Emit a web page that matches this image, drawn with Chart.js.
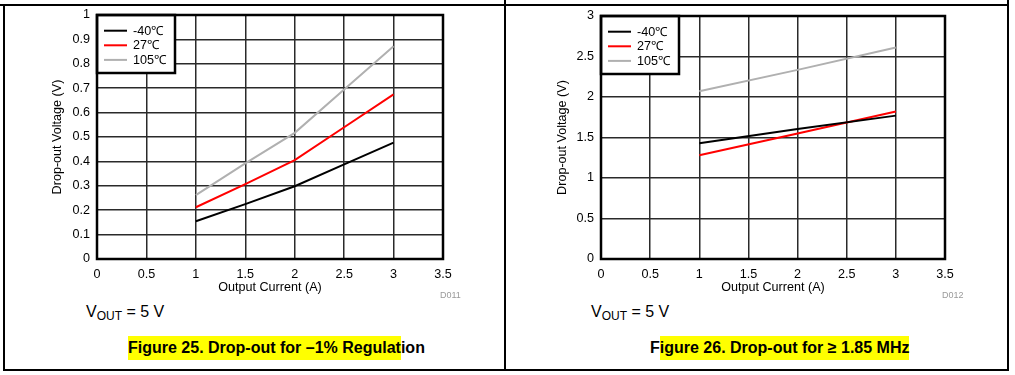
<!DOCTYPE html>
<html lang="en">
<head>
  <meta charset="UTF-8">
  <title>Drop-out Voltage vs Output Current</title>
  <script src="https://cdn.jsdelivr.net/npm/chart.js"></script>
  <style>
    body {
      margin: 0;
      width: 1015px;
      height: 375px;
      background: #fff;
      font-family: Arial, "Liberation Sans", sans-serif;
      position: relative;
      overflow: hidden;
    }
    .rule { position: absolute; background: #000; }
    .panel { position: absolute; top: 0; width: 505px; height: 300px; }
    .code { position: absolute; font-size: 9px; color: #9a9a9a; line-height: 1; }
    .vout { position: absolute; font-size: 16px; line-height: 1; color: #000; }
    .vout sub { font-size: 12px; vertical-align: -3px; line-height: 0; }
    .caption { position: absolute; font-size: 16px; font-weight: bold; line-height: 1; color: #000; white-space: nowrap; }
    .hl { background: #ffff00; padding: 3px 0 4px 0; }
  </style>
</head>
<body>

  <!-- table rules -->
  <div class="rule" style="left:0; top:4px; width:1009px; height:2px;"></div>
  <div class="rule" style="left:3px; top:5px; width:1.5px; height:366px;"></div>
  <div class="rule" style="left:504px; top:0; width:1.5px; height:371px;"></div>
  <div class="rule" style="left:1007px; top:0; width:1.5px; height:371px;"></div>
  <div class="rule" style="left:3px; top:369px; width:1006px; height:2px;"></div>

  <canvas id="fig25" class="panel" style="left:0;" width="505" height="300"></canvas>
  <canvas id="fig26" class="panel" style="left:505px;" width="505" height="300"></canvas>

  <div class="code" style="left:440px; top:291px;">D011</div>
  <div class="code" style="left:942px; top:291px;">D012</div>

  <div class="vout" style="left:86px; top:304px;">V<sub>OUT</sub> = 5 V</div>
  <div class="vout" style="left:591px; top:304px;">V<sub>OUT</sub> = 5 V</div>

  <div class="caption" style="left:128px; top:340px;"><span class="hl">Figure 25. Drop-out for –1% Regulat</span>ion</div>
  <div class="caption" style="left:650px; top:340px;">F<span class="hl">igure 26. Drop-out for ≥ 1.85 MHz</span></div>

  <script>
    const seriesLabels = ['-40℃', '27℃', '105℃'];
    const seriesColors = ['#000000', '#ff0000', '#b0b0b0'];

    // Figure 25: drop-out for -1% regulation
    const current25 = [1, 1.5, 2, 2.5, 3];
    const cold25 = [0.155, 0.225, 0.298, 0.388, 0.477];
    const room25 = [0.212, 0.307, 0.405, 0.540, 0.675];
    const hot25 = [0.262, 0.392, 0.517, 0.695, 0.872];

    // Figure 26: drop-out for >= 1.85 MHz
    const current26 = [1, 2, 3];
    const cold26 = [1.43, 1.605, 1.77];
    const room26 = [1.28, 1.55, 1.82];
    const hot26 = [2.07, 2.335, 2.61];

    const FONT = "Arial, 'Liberation Sans', sans-serif";
    const TEXT_SIZE = 12.6;

    // legend box drawn inside the plot, top left corner
    const boxLegend = {
      id: 'boxLegend',
      afterDatasetsDraw(chart) {
        const ctx = chart.ctx;
        const a = chart.chartArea;
        ctx.save();
        ctx.fillStyle = '#fff';
        ctx.fillRect(a.left, a.top, 78, 58);
        ctx.lineWidth = 2.5;
        ctx.strokeStyle = '#000';
        ctx.strokeRect(a.left, a.top, 78, 58);
        ctx.font = TEXT_SIZE + 'px ' + FONT;
        ctx.textBaseline = 'middle';
        chart.data.datasets.forEach((ds, i) => {
          const y = a.top + 15.7 + i * 14.6;
          ctx.strokeStyle = ds.borderColor;
          ctx.lineWidth = 2;
          ctx.beginPath();
          ctx.moveTo(a.left + 7, y);
          ctx.lineTo(a.left + 30, y);
          ctx.stroke();
          ctx.fillStyle = '#000';
          ctx.fillText(ds.label, a.left + 36, y + 0.5);
        });
        ctx.restore();
      },
      afterDraw(chart) {
        const ctx = chart.ctx;
        const a = chart.chartArea;
        ctx.save();
        ctx.lineWidth = 2.5;
        ctx.strokeStyle = '#000';
        ctx.strokeRect(a.left, a.top, a.right - a.left, a.bottom - a.top);
        ctx.restore();
      }
    };

    function toPoints(xs, ys) {
      return xs.map((x, i) => ({ x: x, y: ys[i] }));
    }

    function makeChart(id, xs, ys, yMax, yStep, pad) {
      return new Chart(document.getElementById(id), {
        type: 'line',
        data: {
          datasets: ys.map((vals, i) => ({
            label: seriesLabels[i],
            data: toPoints(xs, vals),
            borderColor: seriesColors[i],
            borderWidth: 2,
            pointRadius: 0,
            tension: 0,
            fill: false
          }))
        },
        options: {
          responsive: false,
          animation: false,
          events: [],
          layout: { padding: pad },
          plugins: { legend: { display: false }, tooltip: { enabled: false } },
          scales: {
            x: {
              type: 'linear',
              min: 0,
              max: 3.5,
              afterFit(s) { s.height = 36; },
              border: { display: false },
              grid: { color: '#2a2a2a', lineWidth: 1.5, drawTicks: false },
              ticks: {
                stepSize: 0.5,
                padding: 8,
                color: '#000',
                font: { family: FONT, size: TEXT_SIZE },
                callback: v => String(+v.toFixed(2))
              },
              title: {
                display: true,
                text: 'Output Current (A)',
                color: '#000',
                padding: 0,
                font: { family: FONT, size: TEXT_SIZE }
              }
            },
            y: {
              min: 0,
              max: yMax,
              afterFit(s) { s.width = pad.yWidth; },
              border: { display: false },
              grid: { color: '#2a2a2a', lineWidth: 1.5, drawTicks: false },
              ticks: {
                stepSize: yStep,
                padding: 7,
                color: '#000',
                font: { family: FONT, size: TEXT_SIZE },
                callback: v => String(+v.toFixed(2))
              },
              title: {
                display: true,
                text: 'Drop-out Voltage (V)',
                color: '#000',
                padding: 0,
                font: { family: FONT, size: TEXT_SIZE }
              }
            }
          }
        },
        plugins: [boxLegend]
      });
    }

    makeChart('fig25', current25, [cold25, room25, hot25], 1, 0.1,
      { left: 50, right: 62, top: 15, bottom: 5, yWidth: 47 });
    makeChart('fig26', current26, [cold26, room26, hot26], 3, 0.5,
      { left: 50, right: 65, top: 16, bottom: 5, yWidth: 46 });
  </script>

</body>
</html>
